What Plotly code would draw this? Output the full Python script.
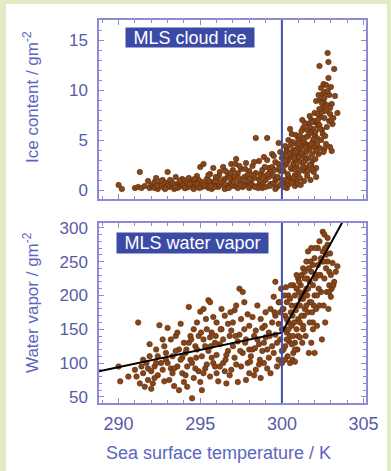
import plotly.graph_objects as go

# ---------------- data ----------------
ice_x = [290.0,290.2,291.0,291.2,291.3,291.4,291.6,291.8,291.9,292.0,
292.1,292.2,292.3,292.4,292.5,292.6,292.7,292.8,292.9,293.0,293.1,293.2,293.3,293.4,293.5,293.6,293.7,293.8,293.9,294.0,
292.2,292.6,293.0,293.3,293.6,293.9,294.0,
294.1,294.2,294.3,294.4,294.5,294.6,294.7,294.8,294.9,295.0,295.1,295.2,295.3,295.4,295.5,295.6,295.7,295.8,295.9,296.0,
294.3,294.6,294.9,295.1,295.4,295.7,296.0,295.5,294.8,295.9,
296.1,296.2,296.3,296.4,296.5,296.6,296.7,296.8,296.9,297.0,297.1,297.2,297.3,297.4,297.5,297.6,297.7,297.8,297.9,298.0,
296.2,296.5,296.8,297.0,297.3,297.6,297.9,296.4,297.1,297.7,296.9,297.4,298.0,
298.1,298.2,298.3,298.4,298.5,298.6,298.7,298.8,298.9,299.0,299.1,299.2,299.3,299.4,299.5,299.6,299.7,299.8,299.9,300.0,
298.2,298.4,298.6,298.8,299.0,299.2,299.4,299.6,299.8,299.9,298.3,298.7,299.1,299.5,299.7,299.3,298.9,299.9,299.6,300.0,
300.1,300.2,300.3,300.4,300.5,300.6,300.7,300.8,300.9,301.0,
300.1,300.2,300.3,300.4,300.5,300.6,300.7,300.8,300.9,301.0,
300.1,300.3,300.5,300.7,300.9,300.2,300.4,300.6,300.8,301.0,
300.15,300.35,300.55,300.75,300.95,300.45,300.65,300.85,300.25,301.0,
301.1,301.2,301.3,301.4,301.5,301.6,301.7,301.8,301.9,302.0,
301.1,301.2,301.3,301.4,301.5,301.6,301.7,301.8,301.9,302.0,
301.1,301.2,301.3,301.4,301.5,301.6,301.7,301.8,301.9,302.0,
301.15,301.35,301.55,301.75,301.95,301.25,301.45,301.65,301.85,302.0,
301.05,301.3,301.5,301.7,301.9,
302.05,302.1,302.15,302.2,302.25,302.3,302.35,302.4,302.45,302.5,
302.1,302.2,302.3,302.4,302.5,302.05,302.15,302.25,302.35,302.45,
302.1,302.3,302.5,
302.55,302.6,302.65,302.7,302.75,302.8,302.85,302.9,302.95,303.0,
303.05,303.1,303.2,303.25,303.4,302.6,302.7,302.9,303.0,302.55,302.75,302.65,303.15,302.95,303.05,
292.35,292.85,293.15,293.45,293.75,294.05,294.35,294.65,294.95,295.25,295.55,295.85,296.15,296.45,296.75,297.05,297.35,297.65,297.95,298.25,
298.55,298.85,299.15,299.45,299.75,299.85,299.55,299.25,298.95,298.65,298.35,298.05,297.75,297.45,297.15,296.85,296.55,296.25,295.95,295.65,
300.05,300.3,300.55,300.8,301.05,301.3,301.55,301.8,302.05,302.3,302.55,302.8,
300.2,300.45,300.7,300.95,301.2,301.45,301.7,301.95,302.2,302.45,302.7,302.95,
300.35,300.6,300.85,301.1,301.35,301.6,301.85,302.1,302.35,302.6,302.85]
ice_y = [0.5,0.1,0.2,0.3,1.8,0.2,0.4,0.9,0.2,0.5,
0.3,0.8,1.2,0.1,0.6,0.4,1.0,0.2,0.7,1.8,0.3,0.9,0.5,0.1,1.3,0.6,0.3,0.8,1.1,0.4,
0.2,0.9,0.4,0.7,0.2,0.6,1.0,
0.2,0.7,1.2,0.5,0.9,0.1,0.6,1.4,0.3,2.3,0.8,2.6,0.4,1.1,0.2,1.6,0.7,2.2,0.5,1.2,
0.3,0.8,1.0,0.3,0.6,0.1,0.4,1.5,0.6,0.9,
0.3,1.8,0.7,2.3,1.1,0.2,1.5,0.6,2.6,1.0,0.4,3.1,1.7,0.8,2.1,0.3,1.3,2.7,0.6,1.9,
0.5,0.1,1.2,2.0,0.2,1.0,1.5,0.9,1.4,0.5,0.4,2.4,0.2,
0.8,2.4,1.2,5.2,0.4,2.9,1.6,0.2,3.3,1.0,5.2,2.2,0.6,3.6,1.4,2.8,0.3,4.7,1.9,3.2,
0.5,1.7,1.1,2.0,0.3,1.3,2.3,0.9,2.6,0.5,2.8,0.7,3.0,3.4,1.2,1.8,1.4,3.8,0.1,1.0,
0.5,2.5,4.1,1.3,3.3,5.6,0.8,2.9,4.6,1.7,
3.6,1.0,0.2,3.0,6.1,2.1,4.0,0.4,2.3,5.1,
1.9,2.7,0.9,2.6,3.4,4.4,5.0,3.7,1.5,3.3,
0.3,1.6,2.2,3.2,1.1,0.6,4.8,5.5,3.1,0.6,
2.8,4.4,6.2,1.9,3.8,5.4,7.4,2.6,4.9,6.8,
1.2,5.9,3.4,4.7,2.2,6.6,4.1,5.8,3.0,7.7,
3.9,2.0,4.9,6.7,5.3,3.2,2.5,7.0,6.1,4.3,
0.5,0.9,1.4,1.0,1.8,7.0,3.0,4.5,3.6,5.5,
4.6,2.3,4.3,5.7,2.1,
3.1,8.9,5.2,6.4,9.5,4.2,7.3,10.2,6.0,8.2,
2.2,7.6,12.4,5.0,9.6,6.9,4.6,3.6,9.0,7.8,
1.3,6.5,5.6,
10.6,7.2,9.8,10.5,6.3,13.7,12.8,9.5,7.6,10.3,
8.6,6.6,12.1,9.4,7.7,4.1,4.6,6.9,7.0,3.8,8.5,5.4,7.2,4.3,3.9,
0.4,0.1,1.0,0.3,0.9,0.2,0.6,1.1,0.2,0.5,0.9,0.3,1.4,0.6,0.2,0.8,1.2,0.4,0.9,1.5,
0.2,0.7,1.6,0.6,1.3,2.2,2.0,0.4,2.3,0.9,0.3,1.1,2.1,0.5,2.6,1.7,1.9,0.8,1.3,0.4,
2.0,3.8,4.5,2.1,3.3,5.2,6.0,4.6,5.8,8.1,8.8,9.9,
2.9,3.6,1.2,4.1,3.7,4.2,6.3,5.1,7.0,8.7,7.9,8.2,
0.9,0.7,3.9,5.4,2.8,1.9,6.8,3.9,6.1,9.2,11.2]

wv_x = [290.0,290.1,291.2,291.0,291.1,291.3,291.4,291.5,291.6,291.7,291.8,291.9,292.0,292.1,292.2,292.3,292.4,292.5,292.6,292.7,292.8,292.9,293.0,293.1,293.2,293.3,293.4,293.5,293.6,293.7,293.8,293.9,294.0,
291.5,292.0,292.4,292.8,293.2,293.6,293.9,292.7,293.3,293.5,294.0,292.2,291.8,293.0,293.7,
294.1,294.2,294.3,294.4,294.5,294.5,294.6,294.7,294.8,294.9,295.0,295.1,295.1,295.2,295.3,295.4,295.5,295.5,295.6,295.7,295.8,295.9,296.0,296.0,
294.2,294.4,294.6,294.8,295.0,295.2,295.4,295.6,295.8,296.0,294.3,294.7,295.3,295.7,294.9,295.9,294.1,295.6,295.2,
296.1,296.2,296.3,296.4,296.5,296.6,296.7,296.8,296.9,297.0,297.1,297.2,297.3,297.4,297.5,297.6,297.7,297.8,297.9,298.0,
296.2,296.4,296.6,296.8,297.0,297.2,297.4,297.6,297.8,298.0,296.3,296.7,297.1,297.5,297.9,296.5,296.9,297.3,297.7,298.0,
298.1,298.2,298.3,298.4,298.5,298.6,298.7,298.8,298.9,299.0,299.1,299.2,299.3,299.4,299.5,299.6,299.7,299.8,299.9,300.0,
298.2,298.4,298.6,298.8,299.0,299.2,299.4,299.6,299.8,300.0,298.3,298.7,299.1,299.5,299.9,298.5,298.9,299.3,299.7,299.95,299.8,299.6,300.0,
300.1,300.2,300.3,300.4,300.5,300.6,300.7,300.8,300.9,301.0,
300.1,300.2,300.3,300.4,300.5,300.6,300.7,300.8,300.9,301.0,
300.15,300.35,300.55,300.75,300.95,300.25,300.45,300.65,300.85,301.0,
300.1,300.3,300.5,300.7,300.9,300.2,300.6,300.8,
301.1,301.2,301.3,301.4,301.5,301.6,301.7,301.8,301.9,302.0,
301.1,301.2,301.3,301.4,301.5,301.6,301.7,301.8,301.9,302.0,
301.15,301.35,301.55,301.75,301.95,301.25,301.45,301.65,301.85,302.0,
301.05,301.3,301.5,301.7,301.9,301.4,301.6,301.8,301.2,301.1,
302.1,302.2,302.3,302.4,302.5,302.6,302.7,302.8,302.9,303.0,
302.1,302.2,302.3,302.4,302.5,302.6,302.7,302.8,302.9,303.0,
302.15,302.35,302.55,302.75,302.95,303.1,303.2,303.4,303.3,302.45,302.25,302.65,302.85,302.05,
290.6,291.9,292.3,292.9,293.4,293.8,294.15,294.45,294.75,295.05,295.35,295.65,295.95,296.25,296.55,296.85,297.15,
297.45,297.75,298.05,298.35,298.65,298.95,299.25,299.55,299.85,300.05,300.3,300.55,300.8,301.05,301.3,301.55,301.8,
302.05,302.3,302.55,302.8,303.05,300.4,300.65,300.9,301.15,301.4,301.65,301.9,302.15,302.4,302.65,302.9,303.15]
wv_y = [95,73,160,90,80,70,95,85,65,100,75,110,88,70,95,120,82,156,100,90,125,105,152,75,135,110,66,140,95,120,158,85,130,
105,62,110,73,92,145,108,135,85,118,72,78,92,100,60,
115,95,183,140,48,100,78,125,160,88,176,60,110,135,92,150,193,118,80,145,100,130,160,85,
65,105,150,120,72,180,98,138,168,112,130,92,125,108,140,95,82,190,85,
73,128,150,100,170,70,118,140,90,160,108,185,132,210,95,205,150,75,172,120,
95,135,112,82,125,98,142,115,135,155,180,158,178,165,100,88,148,72,190,85,
110,168,140,90,185,128,78,152,100,175,120,145,85,160,198,220,130,105,175,150,
120,148,98,118,138,108,125,142,158,118,82,165,92,115,135,135,130,180,95,210,190,170,100,
120,170,145,200,100,155,215,130,185,165,
150,125,190,160,140,185,115,200,150,225,
200,110,175,160,120,212,132,105,178,140,
180,165,195,140,210,105,128,102,
185,230,150,205,250,175,220,130,245,200,
160,200,240,180,210,265,190,235,160,255,
215,170,225,250,185,130,140,115,175,115,
205,195,185,160,215,235,210,270,170,138,
230,270,185,250,294,290,240,275,215,198,
180,245,280,205,265,225,260,250,235,230,
155,230,185,205,262,248,220,243,235,135,210,160,180,270,
80,128,100,115,92,105,120,135,108,145,165,125,140,150,105,175,140,
118,130,102,122,105,155,140,175,190,180,135,215,120,220,155,200,190,
225,230,250,285,210,150,170,230,195,225,240,150,200,255,270,205,215]

fit_x = [288.8, 300.0, 304.4]
fit_y = [88, 145, 339]

x_range = [288.8, 305.15]
ice_range = [-0.9, 17.0]
wv_range = [41, 307]

# ---------------- style ----------------
FONT = "Liberation Sans, Arial, sans-serif"
TICK_C = "#5a5aa8"
TITLE_C = "#5a66c0"
FRAME_C = "#8a8ad6"
VLINE_C = "#3d4db4"
PT_C = "#87461a"
PLOT_BG = "#eeeef8"
GREEN = "#e2ecc4"
BOX_C = "#3b4aa5"

W, H = 391, 471
L, R, T, B = 99, 25, 20, 68
PW, PH = W - L - R, H - T - B

def px(x):
    return (x - L) / PW

def py(y):
    return (H - B - y) / PH

fig = go.Figure()
marker = dict(color=PT_C, size=5.5, line=dict(color="#5e2e0c", width=0.6))
fig.add_trace(go.Scatter(x=ice_x, y=ice_y, mode="markers", marker=marker,
                         xaxis="x", yaxis="y", showlegend=False))
fig.add_trace(go.Scatter(x=wv_x, y=wv_y, mode="markers", marker=marker,
                         xaxis="x2", yaxis="y2", showlegend=False))
fig.add_trace(go.Scatter(x=fit_x, y=fit_y, mode="lines",
                         line=dict(color="black", width=2),
                         xaxis="x2", yaxis="y2", showlegend=False))

axis_common = dict(showline=True, linecolor=FRAME_C, linewidth=1.5, mirror="allticks",
                   ticks="inside", ticklen=5, tickcolor=FRAME_C, tickwidth=1,
                   showgrid=False, zeroline=False,
                   tickfont=dict(family=FONT, size=17, color=TICK_C))

top_dom = [py(199), py(20)]
bot_dom = [py(403), py(223)]

fig.update_layout(
    width=W, height=H,
    margin=dict(l=L, r=R, t=T, b=B),
    paper_bgcolor=GREEN,
    plot_bgcolor=PLOT_BG,
    xaxis=dict(axis_common, domain=[0, 1], anchor="y", range=x_range, dtick=5,
               showticklabels=False,
               minor=dict(dtick=1, ticks="inside", ticklen=3, tickcolor=FRAME_C)),
    yaxis=dict(axis_common, domain=top_dom, anchor="x", range=ice_range, dtick=5,
               ticklabelstandoff=6,
               minor=dict(dtick=1, ticks="inside", ticklen=3, tickcolor=FRAME_C)),
    xaxis2=dict(axis_common, domain=[0, 1], anchor="y2", range=x_range, dtick=5,
                tickfont=dict(family=FONT, size=18, color=TICK_C), ticklabelstandoff=4,
                minor=dict(dtick=1, ticks="inside", ticklen=3, tickcolor=FRAME_C)),
    yaxis2=dict(axis_common, domain=bot_dom, anchor="x2", range=wv_range, dtick=50,
                ticklabelstandoff=6,
                minor=dict(dtick=10, ticks="inside", ticklen=3, tickcolor=FRAME_C)),
    shapes=[
        dict(type="rect", xref="paper", yref="paper", layer="below",
             x0=px(6), x1=px(387), y0=py(H + 5), y1=py(4),
             fillcolor="white", line=dict(width=0)),
        dict(type="line", xref="x", yref="y domain", x0=300, x1=300, y0=0, y1=1,
             line=dict(color=VLINE_C, width=2)),
        dict(type="line", xref="x2", yref="y2 domain", x0=300, x1=300, y0=0, y1=1,
             line=dict(color=VLINE_C, width=2)),
    ],
    annotations=[
        dict(text="MLS cloud ice", xref="paper", yref="paper", x=px(125), y=py(27),
             xanchor="left", yanchor="top", showarrow=False, bgcolor=BOX_C,
             width=125, height=16, borderpad=1.5,
             font=dict(family=FONT, size=18, color="white")),
        dict(text="MLS water vapor", xref="paper", yref="paper", x=px(116), y=py(232),
             xanchor="left", yanchor="top", showarrow=False, bgcolor=BOX_C,
             width=148, height=17, borderpad=1.5,
             font=dict(family=FONT, size=18, color="white")),
        dict(text="Ice content / gm<sup>-2</sup>", xref="paper", yref="paper",
             x=px(31), y=py(97), xanchor="center", yanchor="middle", textangle=-90,
             showarrow=False, font=dict(family=FONT, size=17, color=TITLE_C)),
        dict(text="Water vapor / gm<sup>-2</sup>", xref="paper", yref="paper",
             x=px(31), y=py(303), xanchor="center", yanchor="middle", textangle=-90,
             showarrow=False, font=dict(family=FONT, size=17, color=TITLE_C)),
        dict(text="Sea surface temperature / K", xref="paper", yref="paper",
             x=px(218), y=py(453), xanchor="center", yanchor="middle",
             showarrow=False, font=dict(family=FONT, size=18, color=TITLE_C)),
    ],
)

fig.write_html("out.html", config={"displayModeBar": False},
               post_script="document.body.style.margin='0';document.body.style.overflow='hidden';")
